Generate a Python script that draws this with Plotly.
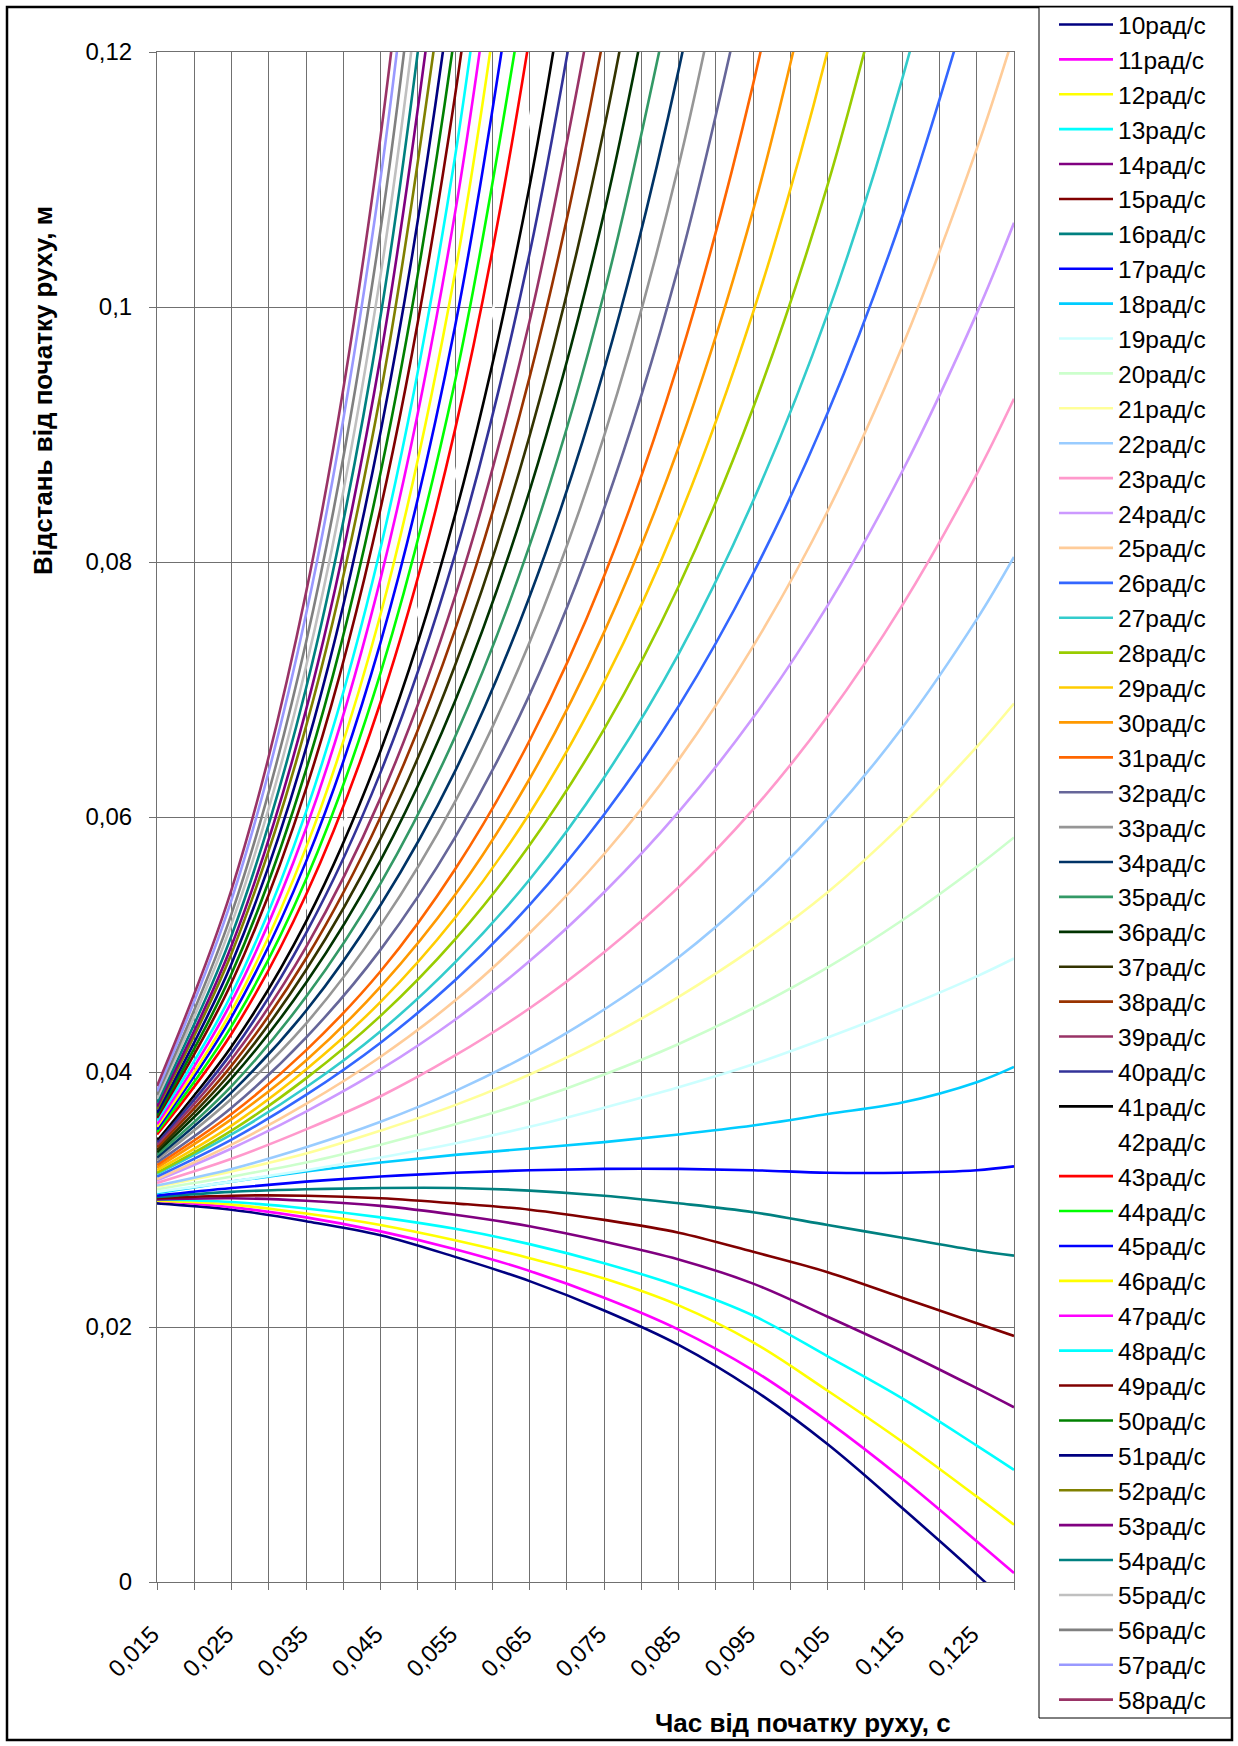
import plotly.graph_objects as go

# x knots (s): every second category of the Excel chart, plus the last one
knot_t = [0.015, 0.025, 0.035, 0.045, 0.055, 0.065, 0.075, 0.085, 0.095,
          0.105, 0.115, 0.125, 0.13]
# all categories shown on the axis (gridlines every 0.005)
cat_t = [round(0.015 + 0.005 * i, 3) for i in range(24)]
cat_labels = ["0,015", "", "0,025", "", "0,035", "", "0,045", "", "0,055", "",
              "0,065", "", "0,075", "", "0,085", "", "0,095", "", "0,105", "",
              "0,115", "", "0,125", ""]
y_ticks = [0, 0.02, 0.04, 0.06, 0.08, 0.1, 0.12]
y_labels = ["0", "0,02", "0,04", "0,06", "0,08", "0,1", "0,12"]

omega = list(range(10, 59))

r10 = [0.0297, 0.0292, 0.0283, 0.0272, 0.0255, 0.0236, 0.0213, 0.0186, 0.0151, 0.0108, 0.0058, 0.0006, -0.0022]
r11 = [0.0299, 0.0294, 0.0286, 0.0275, 0.0261, 0.0244, 0.0223, 0.0198, 0.0166, 0.0126, 0.0081, 0.0032, 0.0007]
r12 = [0.0299, 0.0296, 0.0289, 0.0280, 0.0268, 0.0254, 0.0238, 0.0217, 0.0188, 0.0150, 0.0110, 0.0067, 0.0045]
r13 = [0.0300, 0.0298, 0.0293, 0.0286, 0.0277, 0.0265, 0.0250, 0.0232, 0.0209, 0.0177, 0.0144, 0.0107, 0.0088]
r14 = [0.0300, 0.0301, 0.0299, 0.0295, 0.0288, 0.0279, 0.0267, 0.0253, 0.0234, 0.0208, 0.0181, 0.0152, 0.0137]
r15 = [0.0301, 0.0303, 0.0303, 0.0301, 0.0297, 0.0292, 0.0284, 0.0274, 0.0259, 0.0243, 0.0223, 0.0203, 0.0193]
r16 = [0.0302, 0.0306, 0.0308, 0.0309, 0.0309, 0.0307, 0.0303, 0.0297, 0.0290, 0.0280, 0.0270, 0.0260, 0.0256]
r17 = [0.0303, 0.0309, 0.0314, 0.0318, 0.0321, 0.0323, 0.0324, 0.0324, 0.0323, 0.0321, 0.0321, 0.0323, 0.0326]
r18 = [0.0305, 0.0314, 0.0322, 0.0329, 0.0335, 0.0340, 0.0345, 0.0351, 0.0358, 0.0367, 0.0376, 0.0392, 0.0404]
r19 = [0.0306, 0.0314, 0.0323, 0.0333, 0.0344, 0.0357, 0.0372, 0.0388, 0.0406, 0.0427, 0.0450, 0.0475, 0.0489]
r20 = [0.0308, 0.0318, 0.0329, 0.0343, 0.0359, 0.0377, 0.0398, 0.0422, 0.0450, 0.0482, 0.0519, 0.0561, 0.0584]
r21 = [0.0310, 0.0322, 0.0336, 0.0354, 0.0374, 0.0398, 0.0426, 0.0459, 0.0497, 0.0541, 0.0594, 0.0655, 0.0689]
r22 = [0.0311, 0.0324, 0.0341, 0.0361, 0.0385, 0.0414, 0.0449, 0.0490, 0.0540, 0.0599, 0.0670, 0.0755, 0.0804]
r23 = [0.0313, 0.0332, 0.0355, 0.0381, 0.0413, 0.0450, 0.0494, 0.0545, 0.0606, 0.0679, 0.0766, 0.0869, 0.0928]
r24 = [0.0315, 0.0340, 0.0369, 0.0402, 0.0441, 0.0487, 0.0541, 0.0604, 0.0678, 0.0766, 0.0871, 0.0995, 0.1066]
r25 = [0.0316, 0.0343, 0.0375, 0.0412, 0.0456, 0.0509, 0.0571, 0.0645, 0.0734, 0.0840, 0.0969, 0.1124, 0.1214]
r26 = [0.0318, 0.0347, 0.0382, 0.0423, 0.0472, 0.0531, 0.0602, 0.0687, 0.0791, 0.0917, 0.1071, 0.1261]
r27 = [0.0320, 0.0351, 0.0388, 0.0432, 0.0486, 0.0551, 0.0631, 0.0728, 0.0848, 0.0995, 0.1179, 0.1408]
r28 = [0.0321, 0.0354, 0.0395, 0.0444, 0.0504, 0.0578, 0.0669, 0.0781, 0.0921, 0.1096, 0.1317]
r29 = [0.0323, 0.0358, 0.0402, 0.0455, 0.0521, 0.0603, 0.0706, 0.0834, 0.0996, 0.1201, 0.1465]
r30 = [0.0325, 0.0363, 0.0409, 0.0467, 0.0539, 0.0630, 0.0745, 0.0890, 0.1076, 0.1317]
r31 = [0.0327, 0.0367, 0.0417, 0.0479, 0.0559, 0.0660, 0.0789, 0.0957, 0.1175, 0.1461]
r32 = [0.0329, 0.0372, 0.0427, 0.0496, 0.0584, 0.0696, 0.0842, 0.1032, 0.1281]
r33 = [0.0331, 0.0379, 0.0438, 0.0515, 0.0612, 0.0737, 0.0899, 0.1111, 0.1391]
r34 = [0.0333, 0.0384, 0.0448, 0.0531, 0.0636, 0.0773, 0.0951, 0.1186, 0.1498]
r35 = [0.0335, 0.0389, 0.0459, 0.0548, 0.0663, 0.0813, 0.1011, 0.1273]
r36 = [0.0337, 0.0395, 0.0470, 0.0566, 0.0691, 0.0856, 0.1074, 0.1367]
r37 = [0.0339, 0.0400, 0.0480, 0.0583, 0.0719, 0.0899, 0.1140, 0.1467]
r38 = [0.0341, 0.0405, 0.0489, 0.0600, 0.0747, 0.0945, 0.1214, 0.1584]
r39 = [0.0343, 0.0410, 0.0498, 0.0615, 0.0773, 0.0989, 0.1286]
r40 = [0.0345, 0.0415, 0.0509, 0.0635, 0.0806, 0.1042, 0.1370]
r41 = [0.0347, 0.0420, 0.0518, 0.0652, 0.0837, 0.1095, 0.1461]
r42 = [0.0349, 0.0425, 0.0529, 0.0671, 0.0868, 0.1147, 0.1547]
r43 = [0.0351, 0.0430, 0.0539, 0.0690, 0.0904, 0.1212, 0.1661]
r44 = [0.0353, 0.0436, 0.0551, 0.0713, 0.0942, 0.1273]
r45 = [0.0355, 0.0443, 0.0565, 0.0737, 0.0985, 0.1348]
r46 = [0.0357, 0.0448, 0.0576, 0.0759, 0.1027, 0.1425]
r47 = [0.0359, 0.0455, 0.0591, 0.0787, 0.1074, 0.1502]
r48 = [0.0362, 0.0461, 0.0604, 0.0811, 0.1118, 0.1582]
r49 = [0.0364, 0.0470, 0.0622, 0.0842, 0.1166, 0.1653]
r50 = [0.0366, 0.0477, 0.0637, 0.0870, 0.1216, 0.1742]
r51 = [0.0368, 0.0485, 0.0654, 0.0902, 0.1271, 0.1834]
r52 = [0.0371, 0.0493, 0.0671, 0.0932, 0.1325]
r53 = [0.0373, 0.0499, 0.0684, 0.0961, 0.1382]
r54 = [0.0376, 0.0507, 0.0701, 0.0993, 0.1443]
r55 = [0.0379, 0.0516, 0.0718, 0.1025, 0.1497]
r56 = [0.0382, 0.0524, 0.0737, 0.1061, 0.1562]
r57 = [0.0385, 0.0535, 0.0759, 0.1101, 0.1631]
r58 = [0.0389, 0.0543, 0.0776, 0.1134, 0.1694]

series = [r10, r11, r12, r13, r14, r15, r16, r17, r18, r19, r20, r21, r22, r23,
          r24, r25, r26, r27, r28, r29, r30, r31, r32, r33, r34, r35, r36, r37,
          r38, r39, r40, r41, r42, r43, r44, r45, r46, r47, r48, r49, r50, r51,
          r52, r53, r54, r55, r56, r57, r58]

colors = ["#000080", "#FF00FF", "#FFFF00", "#00FFFF", "#800080", "#800000",
          "#008080", "#0000FF", "#00CCFF", "#CCFFFF", "#CCFFCC", "#FFFF99",
          "#99CCFF", "#FF99CC", "#CC99FF", "#FFCC99", "#3366FF", "#33CCCC",
          "#99CC00", "#FFCC00", "#FF9900", "#FF6600", "#666699", "#969696",
          "#003366", "#339966", "#003300", "#333300", "#993300", "#993366",
          "#333399", "#000000", "#FFFFFF", "#FF0000", "#00FF00", "#0000FF",
          "#FFFF00", "#FF00FF", "#00FFFF", "#800000", "#008000", "#000080",
          "#808000", "#800080", "#008080", "#C0C0C0", "#808080", "#9999FF",
          "#993366"]

FONT = "Arial, Liberation Sans, sans-serif"

fig = go.Figure()
for w, vals, col in zip(omega, series, colors):
    fig.add_trace(go.Scatter(
        x=knot_t[:len(vals)], y=vals, mode="lines",
        name=f"{w}рад/с", legendgroup=str(w),
        line=dict(color=col, width=2.6, shape="spline"),
        hoverinfo="skip"))

W, H = 1238, 1746
L, R, T, B = 157, 224, 52, 164
pw, ph = W - L - R, H - T - B


def px(x):
    return (x - L) / pw


def py(y):
    return (H - B - y) / ph


GRID = "#707070"
fig.update_layout(
    width=W, height=H, autosize=False,
    margin=dict(l=L, r=R, t=T, b=B, pad=0, autoexpand=False),
    paper_bgcolor="white", plot_bgcolor="white",
    font=dict(family=FONT, size=24, color="black"),
    showlegend=True,
    legend=dict(x=px(1054), y=py(2), xanchor="left", yanchor="top",
                bgcolor="rgba(0,0,0,0)", borderwidth=0,
                font=dict(family=FONT, size=24.5, color="black"),
                traceorder="grouped", tracegroupgap=0.05, itemwidth=54,
                maxheight=1800),
    xaxis=dict(range=[0.015, 0.13], tickmode="array", tickvals=cat_t,
               ticktext=[t + "\u00a0" if t else t for t in cat_labels],
               tickangle=-45, ticks="outside",
               ticklen=7, tickcolor=GRID, showgrid=True, gridcolor=GRID,
               gridwidth=1, showline=True, linecolor=GRID, mirror=True,
               zeroline=False, tickfont=dict(size=24, family=FONT),
               ticklabelstandoff=16, automargin=False),
    yaxis=dict(range=[0, 0.12], tickmode="array", tickvals=y_ticks,
               ticktext=y_labels, ticks="outside", ticklen=7, tickcolor=GRID,
               showgrid=True, gridcolor=GRID, gridwidth=1, showline=True,
               linecolor=GRID, mirror=True, zeroline=False,
               tickfont=dict(size=24, family=FONT), ticklabelstandoff=12,
               automargin=False),
    annotations=[
        dict(text="<b>Час від початку руху, с</b>", xref="paper", yref="paper",
             x=px(803), y=py(1723), xanchor="center", yanchor="middle",
             showarrow=False, font=dict(size=26, family=FONT)),
        dict(text="<b>Відстань від початку руху, м</b>", xref="paper",
             yref="paper", x=px(43), y=py(391), xanchor="center",
             yanchor="middle", textangle=-90, showarrow=False,
             font=dict(size=26, family=FONT)),
    ],
    shapes=[
        dict(type="rect", xref="paper", yref="paper",
             x0=px(7), x1=px(1232), y0=py(7), y1=py(1740),
             line=dict(color="black", width=2.5), layer="below"),
        dict(type="rect", xref="paper", yref="paper",
             x0=px(1039), x1=px(1231), y0=py(7), y1=py(1718),
             line=dict(color="black", width=1), fillcolor="white",
             layer="below"),
    ],
)

fig.write_html("out.html", config={"displayModeBar": False},
               post_script="document.body.style.margin='0';")
